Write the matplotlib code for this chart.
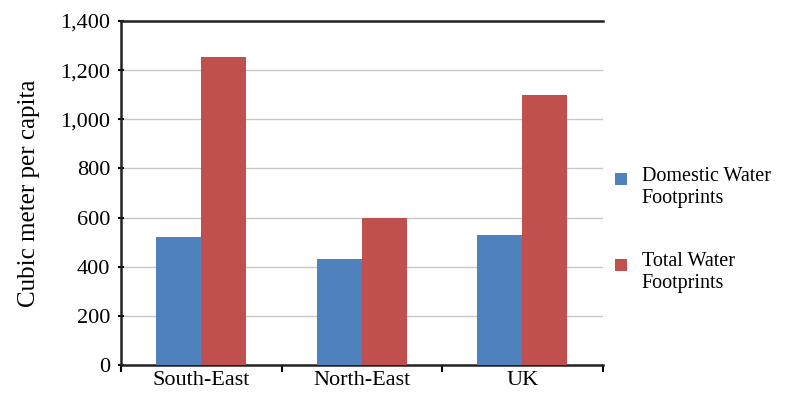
import numpy as np
import matplotlib.pyplot as plt
from matplotlib.patches import Rectangle
from matplotlib.container import BarContainer
from matplotlib.legend_handler import HandlerPatch
from matplotlib.ticker import FuncFormatter, FixedLocator

regions = ['South-East', 'North-East', 'UK']
domestic = [520, 430, 530]
total = [1255, 600, 1100]

plt.rcParams['font.family'] = ['Liberation Serif', 'DejaVu Serif']

fig = plt.figure(figsize=(7.9, 3.94), dpi=100)
ax = fig.add_axes([0.153, 0.0736, 0.610, 0.873])

x = np.arange(len(regions))
w = 0.28
b1 = ax.bar(x - w / 2, domestic, w, color='#4F81BD', label='Domestic Water\nFootprints', zorder=3)
b2 = ax.bar(x + w / 2, total, w, color='#C0504D', label='Total Water\nFootprints', zorder=3)

ax.set_xlim(-0.5, len(regions) - 0.5)
ax.set_ylim(0, 1400)
ax.set_yticks(np.arange(0, 1401, 200))
ax.yaxis.set_major_formatter(FuncFormatter(lambda v, p: f'{int(v):,}'))
ax.set_xticks(x)
ax.set_xticklabels(regions)
ax.xaxis.set_minor_locator(FixedLocator(np.arange(-0.5, len(regions), 1)))
ax.tick_params(axis='x', which='major', length=0, labelsize=16, pad=4)
ax.tick_params(axis='x', which='minor', length=5, width=1.5, direction='out')
ax.tick_params(axis='y', length=5, width=1.5, direction='inout', labelsize=16, pad=5)

ax.grid(axis='y', color='#c8c8c8', linewidth=1, zorder=0)
ax.spines['right'].set_visible(False)
for s in ['left', 'bottom', 'top']:
    ax.spines[s].set_linewidth(1.8)
    ax.spines[s].set_color('#222222')

ax.set_ylabel('Cubic meter per capita', fontsize=18, labelpad=15)


# small square key sitting next to the first line of a two-line label
def top_square(legend, orig_handle, xdescent, ydescent, width, height, fontsize):
    s = 0.6 * fontsize
    return Rectangle((-xdescent, -ydescent + height - s), s, s)


def from_first_bar(legend_handle, orig_handle):
    legend_handle.update_from(orig_handle.patches[0])


fig.legend(handles=[b1, b2], loc='center left', bbox_to_anchor=(0.756, 0.417),
           frameon=False, fontsize=14.5, handlelength=0.6, handleheight=1.8,
           handletextpad=0.7, labelspacing=2.2,
           handler_map={BarContainer: HandlerPatch(patch_func=top_square,
                                                   update_func=from_first_bar)})

plt.savefig('out.png')
